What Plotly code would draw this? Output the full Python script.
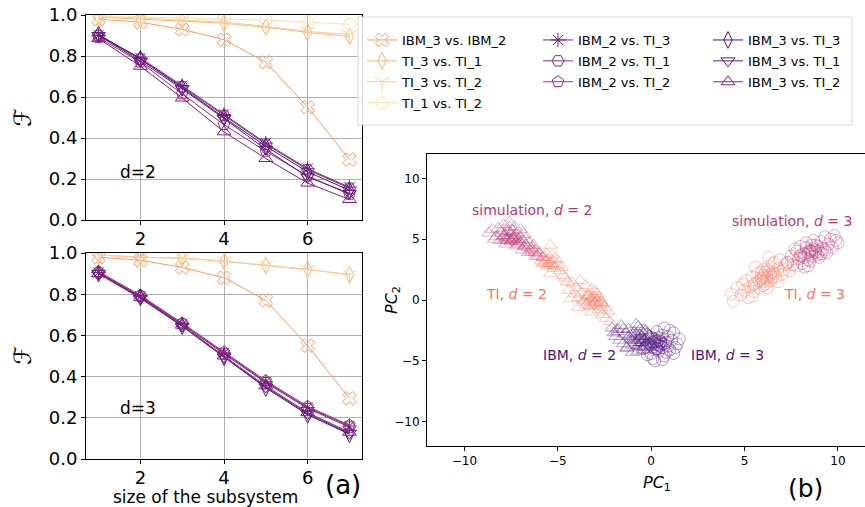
import plotly.graph_objects as go

W, H = 865, 507
def px(x): return x / W
def py(y): return 1 - y / H

sizes = [1, 2, 3, 4, 5, 6, 7]

series_names = ["IBM_3 vs. IBM_2", "TI_3 vs. TI_1", "TI_3 vs. TI_2", "TI_1 vs. TI_2",
                "IBM_2 vs. TI_3", "IBM_2 vs. TI_1", "IBM_2 vs. TI_2",
                "IBM_3 vs. TI_3", "IBM_3 vs. TI_1", "IBM_3 vs. TI_2"]
series_colors = ["#fd9a6a", "#feb37b", "#fecb8f", "#fde3a7",
                 "#721f81", "#8c2981", "#a3307e",
                 "#4f127b", "#5f187f", "#7e2482"]
series_symbols = ["x-open", "diamond-tall-open", "y-down-open", "circle-open",
                  "asterisk-open", "hexagon2-open", "pentagon-open",
                  "diamond-tall-open", "triangle-down-open", "triangle-up-open"]
legend_of = ["legend", "legend", "legend", "legend",
             "legend2", "legend2", "legend2",
             "legend3", "legend3", "legend3"]

# fidelity, d = 2
fid_d2 = {
    "IBM_3 vs. IBM_2": [0.98, 0.965, 0.93, 0.88, 0.77, 0.55, 0.295],
    "TI_3 vs. TI_1":   [0.99, 0.98, 0.97, 0.96, 0.94, 0.915, 0.895],
    "TI_3 vs. TI_2":   [0.995, 0.985, 0.975, 0.965, 0.945, 0.92, 0.905],
    "TI_1 vs. TI_2":   [0.995, 0.99, 0.985, 0.98, 0.975, 0.965, 0.955],
    "IBM_2 vs. TI_3":  [0.90, 0.79, 0.655, 0.515, 0.375, 0.25, 0.16],
    "IBM_2 vs. TI_1":  [0.90, 0.785, 0.65, 0.51, 0.37, 0.245, 0.155],
    "IBM_2 vs. TI_2":  [0.89, 0.77, 0.615, 0.465, 0.335, 0.215, 0.125],
    "IBM_3 vs. TI_3":  [0.905, 0.785, 0.645, 0.50, 0.36, 0.235, 0.145],
    "IBM_3 vs. TI_1":  [0.90, 0.775, 0.64, 0.495, 0.345, 0.21, 0.13],
    "IBM_3 vs. TI_2":  [0.885, 0.75, 0.595, 0.43, 0.30, 0.18, 0.10],
}
# fidelity, d = 3
fid_d3 = {
    "IBM_3 vs. IBM_2": [0.98, 0.965, 0.93, 0.88, 0.77, 0.55, 0.295],
    "TI_3 vs. TI_1":   [0.99, 0.98, 0.975, 0.96, 0.94, 0.92, 0.895],
    "TI_3 vs. TI_2":   [0.99, 0.98, 0.975, 0.96, 0.94, 0.92, 0.895],
    "IBM_2 vs. TI_3":  [0.905, 0.79, 0.655, 0.515, 0.375, 0.25, 0.16],
    "IBM_2 vs. TI_1":  [0.905, 0.79, 0.655, 0.51, 0.37, 0.245, 0.155],
    "IBM_2 vs. TI_2":  [0.91, 0.795, 0.66, 0.52, 0.38, 0.255, 0.165],
    "IBM_3 vs. TI_3":  [0.90, 0.785, 0.645, 0.495, 0.345, 0.215, 0.12],
    "IBM_3 vs. TI_1":  [0.90, 0.78, 0.645, 0.495, 0.35, 0.22, 0.125],
    "IBM_3 vs. TI_2":  [0.90, 0.785, 0.65, 0.50, 0.355, 0.225, 0.13],
}

# PCA point clouds
sim2_x = [-8.7,-8.5,-8.3,-8.2,-8.0,-7.9,-7.8,-7.7,-7.6,-7.5,-7.5,-7.4,-7.3,-7.2,-7.1,-7.0,-6.9,-6.8,-6.7,-6.6,-6.5,-6.4,-6.3,-6.2,-6.0,-7.8,-7.6,-7.3,-7.0,-6.8,-8.1,-7.7,-7.2,-6.9,-6.6,-6.1,-5.8,-7.4,-7.9,-8.4,
          -7.8,-7.6,-7.5,-7.4,-7.7,-7.3,-7.6,-7.9,-7.2,-7.5,-7.0,-6.7,-6.4,-6.2,-8.0,-7.1]
sim2_y = [5.5,5.8,5.2,5.9,5.5,6.2,5.0,5.6,6.0,5.3,4.8,5.7,5.1,5.5,4.6,5.2,4.9,4.4,5.0,4.3,4.7,4.0,4.5,4.1,3.8,4.6,6.4,6.0,5.8,5.4,4.9,5.1,4.5,4.1,3.9,3.6,3.5,5.0,5.3,5.0,
          5.3,5.1,5.5,5.0,4.9,5.3,5.6,5.2,4.8,4.9,4.7,4.5,4.2,3.9,5.7,5.0]
ti2_x = [-6.4,-6.2,-6.0,-5.9,-5.7,-5.6,-5.5,-5.4,-5.3,-5.2,-5.1,-5.0,-4.9,-5.6,-5.3,-5.8,-5.4,-4.8,-4.6,-4.4,-4.2,-4.1,-4.0,-3.9,-3.8,-3.7,-3.6,-3.5,-3.4,-3.3,-3.2,-3.1,-3.0,-2.9,-2.8,-2.7,-2.6,-2.5,-2.4,-2.3,-2.2,-3.5,-3.2,-3.0,-2.8,-3.6,-3.3,-2.6,-4.3,-3.9,
         -5.6,-5.4,-5.3,-5.5,-5.2,-5.7,-3.2,-3.0,-3.1,-2.9,-3.3,-2.8,-3.0,-3.2,-2.7,-3.4,-4.7,-4.5]
ti2_y = [4.2,3.6,3.9,3.2,3.5,2.8,3.3,4.5,3.0,2.6,3.4,2.9,2.4,3.8,3.7,3.0,2.2,2.7,1.8,0.8,1.4,0.5,1.0,0.2,1.6,0.6,-0.2,1.2,0.3,-0.5,0.9,0.1,-0.3,0.5,-0.8,-0.1,-1.2,-0.6,-1.5,-0.9,-1.8,-0.4,-1.0,0.7,0.2,0.0,0.4,-0.3,0.1,-0.6,
         3.2,3.0,3.3,2.9,2.8,3.1,0.1,-0.2,0.3,0.0,-0.1,-0.4,0.2,-0.5,-0.2,0.4,2.0,1.5]
ibm2_x = [-2.1,-1.9,-1.8,-1.7,-1.6,-1.5,-1.4,-1.3,-1.2,-1.1,-1.0,-0.9,-0.8,-0.7,-0.6,-0.5,-0.4,-0.3,-0.2,-0.1,0.0,0.2,0.4,-1.2,-0.9,-0.6,-0.3,-1.5,-1.0,-0.5,-0.8,-0.2,-1.3,-0.7,-0.4,
          -0.9,-0.7,-0.5,-0.8,-0.6,-0.4,-1.1,-0.3,-0.7,-0.5,-1.8,-2.0]
ibm2_y = [-2.3,-3.0,-2.6,-3.3,-2.1,-3.6,-2.8,-3.9,-2.4,-3.2,-4.3,-2.7,-3.5,-2.2,-3.8,-3.0,-4.1,-2.5,-3.4,-2.9,-3.7,-3.1,-3.6,-3.0,-3.3,-2.9,-3.2,-2.4,-3.7,-3.5,-2.0,-2.7,-4.0,-4.2,-3.9,
          -3.1,-3.3,-3.0,-2.8,-3.5,-3.3,-2.9,-3.6,-3.8,-2.6,-2.4,-2.7]
ibm3_x = [-0.6,-0.4,-0.3,-0.2,-0.1,0.0,0.1,0.2,0.3,0.4,0.5,0.6,0.7,0.8,0.9,1.0,1.1,1.2,1.3,1.4,1.5,-0.2,0.1,0.3,0.6,0.8,1.0,0.2,0.4,0.0,0.5,0.9,-0.5,1.2,0.7,0.3,-0.1,0.6,
          0.2,0.3,0.4,0.1,0.5,0.3,0.2,0.6,0.0,0.4,0.7,-0.3]
ibm3_y = [-3.3,-4.0,-2.8,-4.5,-3.6,-3.1,-4.8,-3.4,-2.6,-4.2,-3.8,-2.9,-4.6,-3.5,-3.0,-4.1,-3.3,-2.7,-3.9,-3.6,-3.2,-3.8,-3.5,-4.0,-3.6,-4.3,-2.5,-5.0,-3.1,-4.4,-3.4,-3.8,-2.5,-4.4,-2.3,-3.7,-3.0,-4.9,
          -3.6,-3.4,-3.7,-3.9,-3.5,-4.0,-3.2,-3.9,-3.7,-3.3,-3.6,-3.9]
ti3_x = [4.3,4.4,4.6,4.8,4.9,5.0,5.1,5.2,5.3,5.4,5.5,5.6,5.7,5.8,5.9,6.0,6.1,6.2,6.3,6.4,6.5,6.6,6.7,6.8,6.9,7.0,7.2,7.4,7.6,7.8,8.0,5.6,5.9,6.2,6.5,6.0,5.4,6.8,7.1,6.3,
         6.0,6.2,6.4,6.1,5.9,6.3,6.5,5.8,6.6,6.0,5.5,7.3]
ti3_y = [0.5,-0.1,1.0,0.4,1.3,0.8,1.6,0.2,1.1,1.9,0.7,1.4,2.2,1.0,1.8,2.5,1.3,2.0,2.8,1.6,2.3,3.1,1.9,2.6,3.3,2.1,2.9,2.4,3.4,2.8,3.6,2.7,2.3,1.0,3.0,1.5,0.3,1.5,2.5,3.5,
         2.0,1.8,2.1,2.3,1.7,2.4,1.9,1.6,2.2,1.2,1.3,3.0]
sim3_x = [7.3,7.5,7.6,7.8,7.9,8.0,8.1,8.2,8.3,8.4,8.5,8.6,8.7,8.8,8.9,9.0,9.1,9.2,9.3,9.4,9.5,9.6,9.7,9.8,10.0,8.2,8.5,8.8,9.1,8.0,8.6,9.3,7.7,9.9,8.4,
          8.5,8.7,8.6,8.4,8.8,8.9,8.3,8.6,9.0,8.2]
sim3_y = [3.1,3.6,2.9,4.0,3.4,4.4,3.0,3.8,4.7,3.3,4.1,3.6,4.9,3.9,4.4,3.5,4.8,4.2,5.2,3.9,4.6,5.0,4.3,5.3,4.7,2.7,3.2,4.5,3.8,3.7,4.0,4.1,4.2,4.9,2.8,
          4.0,4.2,3.8,3.9,4.1,3.7,4.3,4.5,4.0,3.5]

C_SIM, C_TI, C_IBM = "#b73779", "#f8765c", "#51127c"
clouds = [
    (sim2_x, sim2_y, "triangle-up-open", C_SIM),
    (ti2_x, ti2_y, "triangle-up-open", C_TI),
    (ibm2_x, ibm2_y, "triangle-up-open", C_IBM),
    (ibm3_x, ibm3_y, "circle-open", C_IBM),
    (ti3_x, ti3_y, "circle-open", C_TI),
    (sim3_x, sim3_y, "circle-open", C_SIM),
]

FONT = "DejaVu Sans"
fig = go.Figure()

for i, name in enumerate(series_names):
    col = series_colors[i]
    fig.add_trace(go.Scatter(
        x=sizes, y=fid_d2[name], mode="lines+markers", name=name,
        line=dict(color=col, width=1),
        marker=dict(symbol=series_symbols[i], size=12, color=col, line=dict(width=1, color=col)),
        xaxis="x", yaxis="y", legend=legend_of[i], legendgroup=name, showlegend=True))
for i, name in enumerate(series_names):
    if name not in fid_d3:
        continue
    col = series_colors[i]
    fig.add_trace(go.Scatter(
        x=sizes, y=fid_d3[name], mode="lines+markers", name=name,
        line=dict(color=col, width=1),
        marker=dict(symbol=series_symbols[i], size=12, color=col, line=dict(width=1, color=col)),
        xaxis="x2", yaxis="y2", legendgroup=name, showlegend=False))

for cx, cy, sym, col in clouds:
    fig.add_trace(go.Scatter(
        x=cx, y=cy, mode="markers", showlegend=False,
        marker=dict(symbol=sym, size=12, color=col, opacity=0.4, line=dict(width=1, color=col)),
        xaxis="x3", yaxis="y3"))

left_ax = dict(range=[0.7, 7.3], tickvals=[2, 4, 6], showgrid=True, gridcolor="#b0b0b0", gridwidth=0.8,
               showline=True, linecolor="black", linewidth=1, mirror=True, ticks="outside",
               ticklen=4, tickcolor="black", zeroline=False, automargin=False, ticklabelstandoff=-2,
               tickfont=dict(size=18, color="black"))
left_ay = dict(range=[0, 1], tickvals=[0, 0.2, 0.4, 0.6, 0.8, 1.0], ticktext=["0.0", "0.2", "0.4", "0.6", "0.8", "1.0"],
               showgrid=True, gridcolor="#b0b0b0", gridwidth=0.8,
               showline=True, linecolor="black", linewidth=1, mirror=True, ticks="outside",
               ticklen=4, tickcolor="black", zeroline=False, automargin=False,
               tickfont=dict(size=18, color="black"))

legend_common = dict(bgcolor="rgba(0,0,0,0)", borderwidth=0, font=dict(family=FONT, size=13, color="black"),
                     yanchor="top", xanchor="left", tracegroupgap=1, itemsizing="trace",
                     xref="container", yref="container")

fig.update_layout(
    template="none",
    width=W, height=H, margin=dict(l=0, r=0, t=0, b=0, autoexpand=False),
    paper_bgcolor="white", plot_bgcolor="white",
    font=dict(family=FONT, color="black"),
    xaxis=dict(domain=[px(86), px(362)], anchor="y", **left_ax),
    yaxis=dict(domain=[py(220), py(15)], anchor="x", **left_ay),
    xaxis2=dict(domain=[px(86), px(362)], anchor="y2", **left_ax),
    yaxis2=dict(domain=[py(459), py(253)], anchor="x2", **left_ay),
    xaxis3=dict(domain=[px(427), 1.0], anchor="y3", range=[-12, 11.45], tickvals=[-10, -5, 0, 5, 10],
                ticktext=["\u221210", "\u22125", "0", "5", "10"], automargin=False,
                showgrid=False, zeroline=False, showline=True, linecolor="black", linewidth=1, mirror=True,
                ticks="outside", ticklen=4, tickcolor="black", tickfont=dict(size=12, color="black")),
    yaxis3=dict(domain=[py(446), py(154)], anchor="x3", range=[-12, 12], tickvals=[-10, -5, 0, 5, 10],
                ticktext=["\u221210", "\u22125", "0", "5", "10"], automargin=False,
                showgrid=False, zeroline=False, showline=True, linecolor="black", linewidth=1, mirror=False,
                ticks="outside", ticklen=4, tickcolor="black", tickfont=dict(size=12, color="black")),
    legend=dict(x=px(362), y=py(25), **legend_common),
    legend2=dict(x=px(538), y=py(25), **legend_common),
    legend3=dict(x=px(708), y=py(25), **legend_common),
    shapes=[dict(type="rect", xref="paper", yref="paper", x0=px(358), x1=px(852), y0=py(125), y1=py(17),
                 fillcolor="rgba(255,255,255,0.85)", line=dict(color="#d8d8d8", width=1), layer="above")],
)

ann = []
def A(text, x, y, size, color="black", angle=0, xref="paper", yref="paper"):
    ann.append(dict(text=text, x=x, y=y, xref=xref, yref=yref, showarrow=False, textangle=angle,
                    font=dict(family=FONT, size=size, color=color), xanchor="center", yanchor="middle"))

A("\u2131", px(23), py(118), 24, angle=-90)
A("\u2131", px(23), py(356), 24, angle=-90)
A("d=2", px(138), py(172), 17)
A("d=3", px(138), py(408), 17)
A("size of the subsystem", px(205), py(497), 17)
A("(a)", px(343), py(485), 26)
A("(b)", px(805), py(488), 25)
A("<i>PC</i><sub>1</sub>", px(657), py(483), 16)
A("<i>PC</i><sub>2</sub>", px(392), py(300), 16, angle=-90)
A("simulation, <i>d</i> = 2", -6.4, 7.4, 14, C_SIM, xref="x3", yref="y3")
A("simulation, <i>d</i> = 3", 7.55, 6.5, 14, C_SIM, xref="x3", yref="y3")
A("TI, <i>d</i> = 2", -7.2, 0.5, 14, C_TI, xref="x3", yref="y3")
A("TI, <i>d</i> = 3", 8.75, 0.5, 14, C_TI, xref="x3", yref="y3")
A("IBM, <i>d</i> = 2", -3.85, -4.55, 14, C_IBM, xref="x3", yref="y3")
A("IBM, <i>d</i> = 3", 4.1, -4.55, 14, C_IBM, xref="x3", yref="y3")
fig.update_layout(annotations=ann)

fig.write_html("out.html", config={"displayModeBar": False},
               post_script="document.body.style.margin='0';document.body.style.overflow='hidden';")
